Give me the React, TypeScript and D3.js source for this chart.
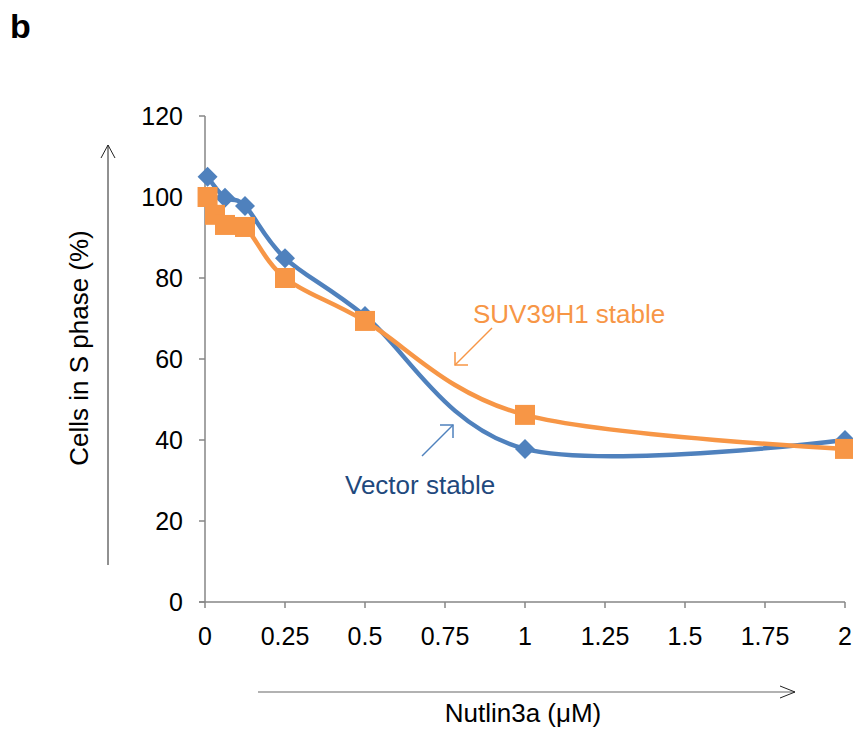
import React from "react";
import * as d3 from "d3";

const xValuesVector = [0.008, 0.0625, 0.125, 0.25, 0.5, 1, 2];
const vectorValues = [105, 99.8, 97.8, 84.9, 70.6, 37.8, 40];
const xValuesSuv = [0.008, 0.03125, 0.0625, 0.125, 0.25, 0.5, 1, 2];
const suvValues = [100, 95.6, 93.1, 92.6, 80, 69.4, 46.2, 37.8];
const xTicks = [0, 0.25, 0.5, 0.75, 1, 1.25, 1.5, 1.75, 2];
const xTickLabels = ["0", "0.25", "0.5", "0.75", "1", "1.25", "1.5", "1.75", "2"];
const yTicks = [0, 20, 40, 60, 80, 100, 120];

const BLUE = "#4F81BD";
const ORANGE = "#F79646";
const AXIS = "#868686";
const FONT = "'Liberation Sans', Arial, sans-serif";

export default function App() {
  const x = d3.scaleLinear().domain([0, 2]).range([205, 845]);
  const y = d3.scaleLinear().domain([0, 120]).range([602, 116]);
  const line = d3
    .line<[number, number]>()
    .x((d) => x(d[0]))
    .y((d) => y(d[1]))
    .curve(d3.curveCardinal.tension(0));
  const vec: [number, number][] = xValuesVector.map((v, i) => [v, vectorValues[i]]);
  const suv: [number, number][] = xValuesSuv.map((v, i) => [v, suvValues[i]]);
  const h = 10;
  const s = 20;

  return (
    <svg
      width={853}
      height={734}
      style={{ position: "absolute", left: 0, top: 0, background: "#fff" }}
      fontFamily={FONT}
    >
      <rect width={853} height={734} fill="#fff" />
      <text x={10} y={38} fontSize={34} fontWeight="bold" fill="#000">b</text>

      {/* y axis */}
      <line x1={205} x2={205} y1={y(120)} y2={y(0)} stroke={AXIS} strokeWidth={1.5} />
      {yTicks.map((t) => (
        <g key={t}>
          <line x1={199} x2={205} y1={y(t)} y2={y(t)} stroke={AXIS} strokeWidth={1.5} />
          <text x={183} y={y(t)} dy="0.36em" textAnchor="end" fontSize={25} fill="#000">
            {t}
          </text>
        </g>
      ))}
      {/* x axis */}
      <line x1={199} x2={x(2)} y1={y(0)} y2={y(0)} stroke={AXIS} strokeWidth={1.5} />
      {xTicks.map((t, i) => (
        <g key={t}>
          <line x1={x(t)} x2={x(t)} y1={y(0)} y2={y(0) + 6} stroke={AXIS} strokeWidth={1.5} />
          <text x={x(t)} y={645} textAnchor="middle" fontSize={25} fill="#000">
            {xTickLabels[i]}
          </text>
        </g>
      ))}

      {/* lines */}
      <path d={line(vec) || ""} fill="none" stroke={BLUE} strokeWidth={4.5} />
      <path d={line(suv) || ""} fill="none" stroke={ORANGE} strokeWidth={4.5} />
      {vec.map((d, i) => {
        const cx = x(d[0]);
        const cy = y(d[1]);
        return (
          <path
            key={"v" + i}
            d={`M${cx},${cy - h}L${cx + h},${cy}L${cx},${cy + h}L${cx - h},${cy}Z`}
            fill={BLUE}
          />
        );
      })}
      {suv.map((d, i) => (
        <rect key={"s" + i} x={x(d[0]) - s / 2} y={y(d[1]) - s / 2} width={s} height={s} fill={ORANGE} />
      ))}

      {/* annotations */}
      <text x={473} y={323} fontSize={26} fill={ORANGE}>SUV39H1 stable</text>
      <line x1={492} x2={455} y1={328} y2={365} stroke={ORANGE} strokeWidth={1.5} />
      <polyline points="455,352 455,365 468,365" fill="none" stroke={ORANGE} strokeWidth={1.5} />
      <text x={345} y={494} fontSize={26} fill="#1F497D">Vector stable</text>
      <line x1={422} x2={453} y1={456} y2={425} stroke={BLUE} strokeWidth={1.5} />
      <polyline points="440,425 453,425 453,438" fill="none" stroke={BLUE} strokeWidth={1.5} />

      {/* axis title arrows */}
      <line x1={108} x2={108} y1={565} y2={145} stroke="#222" strokeWidth={1} />
      <polyline points="101,158 108,145 115,158" fill="none" stroke="#222" strokeWidth={1} />
      <text
        transform="translate(88,348) rotate(-90)"
        textAnchor="middle"
        fontSize={26}
        fill="#000"
      >
        Cells in S phase (%)
      </text>

      <line x1={258} x2={795} y1={692} y2={692} stroke="#999" strokeWidth={1.5} />
      <polyline points="780,686 795,692 780,698" fill="none" stroke="#222" strokeWidth={1} />
      <text x={523} y={722} textAnchor="middle" fontSize={26} fill="#000">
        Nutlin3a (μM)
      </text>
    </svg>
  );
}
